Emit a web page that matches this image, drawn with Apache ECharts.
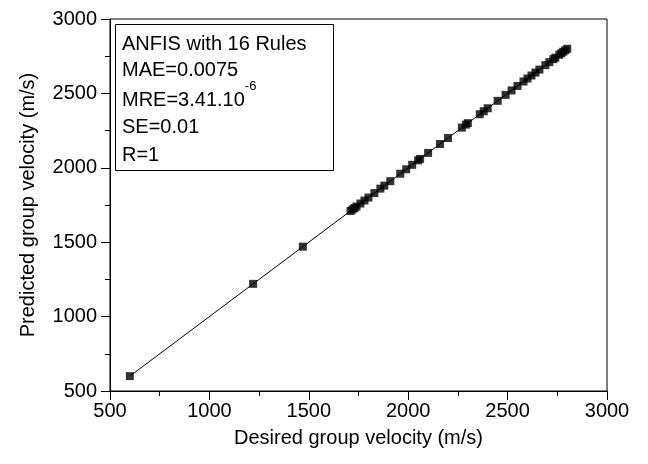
<!DOCTYPE html>
<html><head><meta charset="utf-8">
<script src="https://cdn.jsdelivr.net/npm/echarts@6/dist/echarts.min.js"></script>
<style>html,body{margin:0;padding:0;background:#fff}#c{width:648px;height:464px}</style>
</head><body><div id="c"></div>
<script>
var desired = [600,1220,1470,1710,1720,1730,1740,1760,1780,1800,1830,1860,1880,1910,1960,1990,2020,2050,2060,2100,2160,2200,2270,2290,2300,2360,2380,2400,2450,2490,2520,2550,2580,2600,2620,2640,2660,2690,2710,2730,2740,2760,2770,2780,2790,2800];
var predicted = [600,1220,1470,1710,1720,1730,1740,1760,1780,1800,1830,1860,1880,1910,1960,1990,2020,2050,2060,2100,2160,2200,2270,2290,2300,2360,2380,2400,2450,2490,2520,2550,2580,2600,2620,2640,2660,2690,2710,2730,2740,2760,2770,2780,2790,2800];
var fitX = [600, 2800];
var fitY = [600, 2800];
var xTitle = 'Desired group velocity (m/s)';
var yTitle = 'Predicted group velocity (m/s)';
var boxLines = ['ANFIS with 16 Rules','MAE=0.0075','MRE=3.41.10','SE=0.01','R=1'];
var boxSup = '-6';

var pts = desired.map(function(v,i){return [v, predicted[i]];});
var fit = fitX.map(function(v,i){return [v, fitY[i]];});
var font = 'Liberation Sans';
function axis(name, gap, isY){
  return {
    type:'value', min:500, max:3000, interval:500,
    name:name, nameLocation:'middle', nameGap:gap,
    nameTextStyle:{fontFamily:font, fontSize:20, color:'#000'},
    axisLine:{show:true, onZero:false, lineStyle:{color:'#000', width:1}},
    axisTick:{show:true, inside:false, length:9, lineStyle:{color:'#000'}},
    minorTick:{show:true, splitNumber:2, length:5, lineStyle:{color:'#000'}},
    axisLabel:{fontFamily:font, fontSize:20, color:'#000', margin:isY?13:10,
      formatter:function(v){return String(v);}},
    splitLine:{show:false}
  };
}
var chart = echarts.init(document.getElementById('c'), null, {renderer:'canvas'});
chart.setOption({
  animation:false,
  backgroundColor:'#fff',
  grid:{left:110, right:41, top:19, bottom:73, show:true, borderColor:'#000', borderWidth:1, backgroundColor:'transparent'},
  xAxis: axis(xTitle, 37, false),
  yAxis: axis(yTitle, 72, true),
  series:[
    {type:'line', data:fit, symbol:'none', lineStyle:{color:'#000', width:1}, z:2},
    {type:'scatter', data:pts, symbol:'rect', symbolSize:8, itemStyle:{color:'#000'}, z:3}
  ],
  graphic:[
    {type:'rect', left:115, top:24, shape:{width:218, height:146}, style:{fill:'#fff', stroke:'#000', lineWidth:1}, z:10},
    {type:'text', left:122, top:34, style:{text:boxLines[0], fontFamily:font, fontSize:20, fill:'#000'}, z:11},
    {type:'text', left:122, top:60, style:{text:boxLines[1], fontFamily:font, fontSize:20, fill:'#000'}, z:11},
    {type:'text', left:122, top:80, style:{text:'{a|' + boxLines[2] + '}{s|' + boxSup + '}', rich:{a:{fontFamily:font, fontSize:20, fill:'#000', verticalAlign:'bottom', lineHeight:30}, s:{fontFamily:font, fontSize:13, fill:'#000', verticalAlign:'top', lineHeight:30, padding:[0,0,14,0]}}}, z:11},
    {type:'text', left:122, top:117, style:{text:boxLines[3], fontFamily:font, fontSize:20, fill:'#000'}, z:11},
    {type:'text', left:122, top:145, style:{text:boxLines[4], fontFamily:font, fontSize:20, fill:'#000'}, z:11}
  ]
});
</script></body></html>
